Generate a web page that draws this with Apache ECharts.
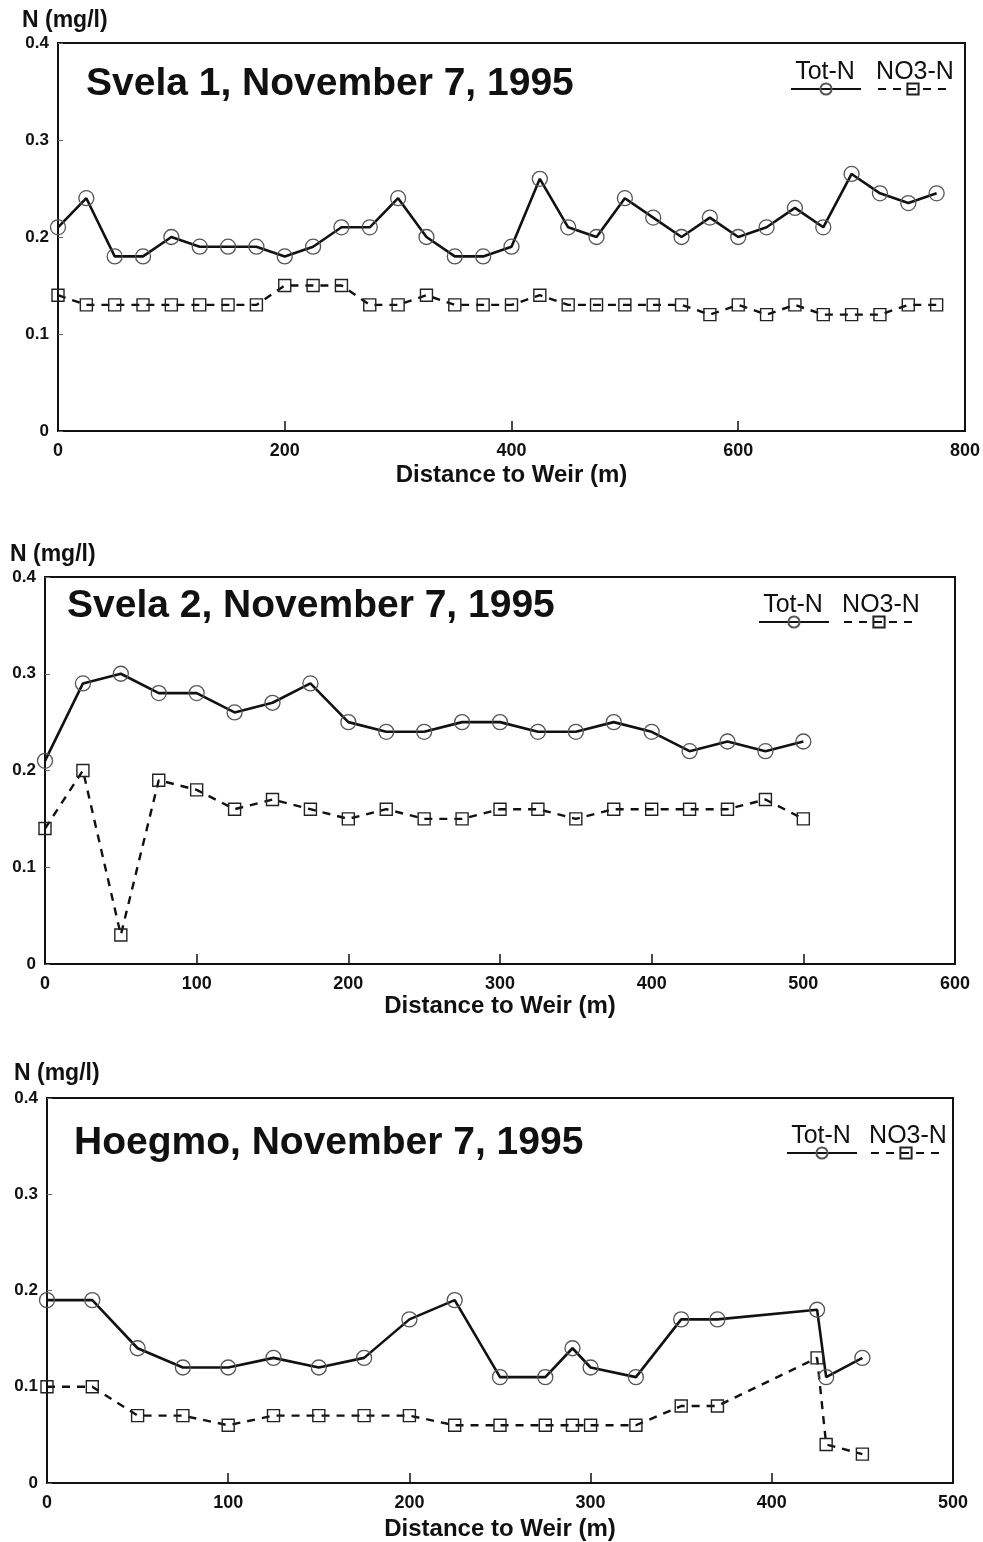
<!DOCTYPE html>
<html>
<head>
<meta charset="utf-8">
<script src="https://cdn.jsdelivr.net/npm/echarts@6/dist/echarts.min.js"></script>
<style>
  html, body { margin: 0; padding: 0; background: #ffffff; }
  #chart { width: 983px; height: 1542px; }
</style>
</head>
<body>
<div id="chart"></div>
<script>
// ---- Svela 1 ----
const svela1Dist = [0, 25, 50, 75, 100, 125, 150, 175, 200, 225, 250, 275, 300, 325, 350, 375,
                    400, 425, 450, 475, 500, 525, 550, 575, 600, 625, 650, 675, 700, 725, 750, 775];
const svela1TotN = [0.21, 0.24, 0.18, 0.18, 0.20, 0.19, 0.19, 0.19, 0.18, 0.19, 0.21, 0.21, 0.24, 0.20, 0.18, 0.18,
                    0.19, 0.26, 0.21, 0.20, 0.24, 0.22, 0.20, 0.22, 0.20, 0.21, 0.23, 0.21, 0.265, 0.245, 0.235, 0.245];
const svela1NO3N = [0.14, 0.13, 0.13, 0.13, 0.13, 0.13, 0.13, 0.13, 0.15, 0.15, 0.15, 0.13, 0.13, 0.14, 0.13, 0.13,
                    0.13, 0.14, 0.13, 0.13, 0.13, 0.13, 0.13, 0.12, 0.13, 0.12, 0.13, 0.12, 0.12, 0.12, 0.13, 0.13];

// ---- Svela 2 ----
const svela2Dist = [0, 25, 50, 75, 100, 125, 150, 175, 200, 225, 250, 275, 300, 325, 350, 375, 400, 425, 450, 475, 500];
const svela2TotN = [0.21, 0.29, 0.30, 0.28, 0.28, 0.26, 0.27, 0.29, 0.25, 0.24, 0.24, 0.25, 0.25, 0.24, 0.24, 0.25,
                    0.24, 0.22, 0.23, 0.22, 0.23];
const svela2NO3N = [0.14, 0.20, 0.03, 0.19, 0.18, 0.16, 0.17, 0.16, 0.15, 0.16, 0.15, 0.15, 0.16, 0.16, 0.15, 0.16,
                    0.16, 0.16, 0.16, 0.17, 0.15];

// ---- Hoegmo ----
const hoegmoDist = [0, 25, 50, 75, 100, 125, 150, 175, 200, 225, 250, 275, 290, 300, 325, 350, 370, 425, 430, 450];
const hoegmoTotN = [0.19, 0.19, 0.14, 0.12, 0.12, 0.13, 0.12, 0.13, 0.17, 0.19, 0.11, 0.11, 0.14, 0.12, 0.11, 0.17,
                    0.17, 0.18, 0.11, 0.13];
const hoegmoNO3N = [0.10, 0.10, 0.07, 0.07, 0.06, 0.07, 0.07, 0.07, 0.07, 0.06, 0.06, 0.06, 0.06, 0.06, 0.06, 0.08,
                    0.08, 0.13, 0.04, 0.03];

const seriesNames = ['Tot-N', 'NO3-N'];
const yAxisName = 'N (mg/l)';
const xAxisName = 'Distance to Weir (m)';

// Panel layout (pixels) and axis ranges
const panels = [
  { title: 'Svela 1, November 7, 1995', dist: svela1Dist, totN: svela1TotN, no3N: svela1NO3N,
    grid: { left: 58, top: 43, width: 908, height: 388 }, xMax: 800, xStep: 200, nameGap: 32,
    titleX: 86, titleY: 84, unitX: 22, unitY: 21, legendLeft: 790, legendTop: 82, legendGap: 15, legendTextY: 72 },
  { title: 'Svela 2, November 7, 1995', dist: svela2Dist, totN: svela2TotN, no3N: svela2NO3N,
    grid: { left: 45, top: 577, width: 910, height: 387 }, xMax: 600, xStep: 100, nameGap: 30,
    titleX: 67, titleY: 606, unitX: 10, unitY: 555, legendLeft: 758, legendTop: 615, legendGap: 13, legendTextY: 605 },
  { title: 'Hoegmo, November 7, 1995', dist: hoegmoDist, totN: hoegmoTotN, no3N: hoegmoNO3N,
    grid: { left: 47, top: 1098, width: 906, height: 386 }, xMax: 500, xStep: 100, nameGap: 34,
    titleX: 74, titleY: 1143, unitX: 14, unitY: 1074, legendLeft: 786, legendTop: 1146, legendGap: 12, legendTextY: 1136 }
];

const FONT = '"Liberation Sans", Arial, Helvetica, sans-serif';
const LEGEND_ITEM_W = 70;
const LEGEND_ITEM_H = 14;

const zip = (xs, ys) => xs.map((x, i) => [x, ys[i]]);

const grids = [], xAxes = [], yAxes = [], series = [], legends = [], graphics = [];

panels.forEach((p, i) => {
  grids.push(Object.assign({ show: true, borderColor: '#111', borderWidth: 2, backgroundColor: 'transparent' }, p.grid));

  xAxes.push({
    type: 'value', gridIndex: i, min: 0, max: p.xMax, interval: p.xStep,
    name: xAxisName, nameLocation: 'middle', nameGap: p.nameGap,
    nameTextStyle: { fontFamily: FONT, fontWeight: 'bold', fontSize: 24, color: '#111' },
    axisLine: { show: true, onZero: false, lineStyle: { color: '#111', width: 2 } },
    axisTick: { show: true, inside: true, length: 10, lineStyle: { color: '#111', width: 1.5 } },
    axisLabel: { fontFamily: FONT, fontWeight: 'bold', fontSize: 18, color: '#111', margin: 11,
                 showMinLabel: true, showMaxLabel: true },
    splitLine: { show: false }
  });

  yAxes.push({
    type: 'value', gridIndex: i, min: 0, max: 0.4, interval: 0.1,
    axisLine: { show: true, onZero: false, lineStyle: { color: '#111', width: 2 } },
    axisTick: { show: true, inside: true, length: 5, lineStyle: { color: '#666', width: 1 } },
    axisLabel: { fontFamily: FONT, fontWeight: 'bold', fontSize: 17, color: '#111', margin: 9,
                 showMinLabel: true, showMaxLabel: true },
    splitLine: { show: false }
  });

  series.push({
    name: seriesNames[0], type: 'line', xAxisIndex: i, yAxisIndex: i,
    data: zip(p.dist, p.totN),
    symbol: 'circle', symbolSize: 15, clip: true,
    lineStyle: { color: '#111', width: 2.6, type: 'solid' },
    itemStyle: { color: 'rgba(0,0,0,0)', borderColor: '#555', borderWidth: 1.3 },
    emphasis: { disabled: true }, animation: false
  });
  series.push({
    name: seriesNames[1], type: 'line', xAxisIndex: i, yAxisIndex: i,
    data: zip(p.dist, p.no3N),
    symbol: 'rect', symbolSize: 12, clip: true,
    lineStyle: { color: '#111', width: 2.4, type: [8, 7] },
    itemStyle: { color: 'rgba(0,0,0,0)', borderColor: '#222', borderWidth: 1.4 },
    emphasis: { disabled: true }, animation: false
  });

  legends.push({
    data: seriesNames, left: p.legendLeft, top: p.legendTop, orient: 'horizontal',
    itemWidth: LEGEND_ITEM_W, itemHeight: LEGEND_ITEM_H, itemGap: p.legendGap,
    padding: 0, selectedMode: false, formatter: () => '',
    textStyle: { fontSize: 1, padding: 0 }
  });

  // Legend captions sit above their line samples
  const capStep = LEGEND_ITEM_W + 5 + p.legendGap;
  seriesNames.forEach((nm, k) => {
    graphics.push({
      type: 'text', x: p.legendLeft + LEGEND_ITEM_W / 2 + k * capStep, y: p.legendTextY, silent: true,
      style: { text: nm, fill: '#111', font: '25px ' + FONT, align: 'center', verticalAlign: 'middle' }
    });
  });

  graphics.push({
    type: 'text', x: p.titleX, y: p.titleY, silent: true,
    style: { text: p.title, fill: '#111', font: 'bold 39px ' + FONT, align: 'left', verticalAlign: 'middle' }
  });
  graphics.push({
    type: 'text', x: p.unitX, y: p.unitY, silent: true,
    style: { text: yAxisName, fill: '#111', font: 'bold 23px ' + FONT, align: 'left', verticalAlign: 'middle' }
  });
});

const chart = echarts.init(document.getElementById('chart'), null, { renderer: 'canvas' });
chart.setOption({
  backgroundColor: '#ffffff',
  animation: false,
  grid: grids,
  xAxis: xAxes,
  yAxis: yAxes,
  legend: legends,
  series: series,
  graphic: graphics
});
</script>
</body>
</html>
